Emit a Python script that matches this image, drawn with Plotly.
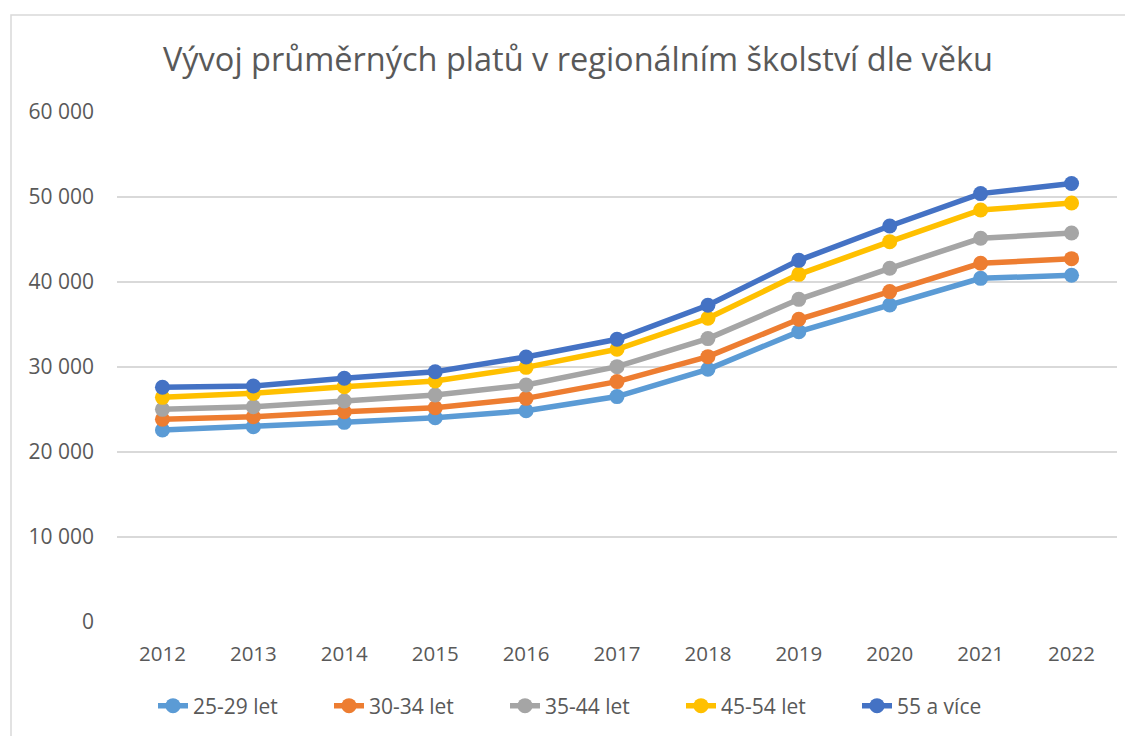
import plotly.graph_objects as go

years = ["2012", "2013", "2014", "2015", "2016", "2017", "2018", "2019", "2020", "2021", "2022"]
s_25_29 = [22590, 22980, 23490, 24040, 24860, 26520, 29730, 34160, 37290, 40430, 40790]
s_30_34 = [23850, 24150, 24740, 25210, 26310, 28280, 31220, 35610, 38870, 42200, 42750]
s_35_44 = [25020, 25330, 26000, 26710, 27880, 30040, 33340, 37960, 41610, 45140, 45760]
s_45_54 = [26430, 26900, 27690, 28350, 29960, 32080, 35730, 40900, 44750, 48470, 49290]
s_55 = [27610, 27760, 28670, 29450, 31180, 33260, 37260, 42550, 46590, 50400, 51580]

series = [
    ("25-29 let", s_25_29, "#5B9BD5"),
    ("30-34 let", s_30_34, "#ED7D31"),
    ("35-44 let", s_35_44, "#A5A5A5"),
    ("45-54 let", s_45_54, "#FFC000"),
    ("55 a více", s_55, "#4472C4"),
]

FONT = "Open Sans"
fig = go.Figure()
for name, vals, col in series:
    fig.add_trace(go.Scatter(
        x=years, y=vals, name=name, mode="lines+markers",
        line=dict(color=col, width=5.5),
        marker=dict(color=col, size=15),
    ))

# page has an 8px body margin; figure coordinates = page - 8
W, H = 1125, 728
L, R, T, B = 109, 16, 104, 114
pw, ph = W - L - R, H - T - B
plot_bottom = T + ph

fig.update_layout(
    width=W, height=H,
    margin=dict(l=L, r=R, t=T, b=B, autoexpand=False),
    paper_bgcolor="white", plot_bgcolor="white",
    separators=", ",
    font=dict(family=FONT, color="#595959", size=21),
    title=dict(
        text="Vývoj průměrných platů v regionálním školství dle věku",
        font=dict(family=FONT, size=32.5, color="#595959"),
        xref="container", yref="container",
        x=570 / W, xanchor="center", y=1 - 52 / H, yanchor="middle",
    ),
    xaxis=dict(
        type="category", range=[-0.5, 10.5], showgrid=False, zeroline=False,
        showline=False, ticks="", ticklabelstandoff=17, automargin=False,
        tickfont=dict(family=FONT, size=20.5, color="#595959"),
    ),
    yaxis=dict(
        range=[0, 60000], dtick=10000, tickformat=",d",
        showgrid=True, gridcolor="#D9D9D9", gridwidth=1.5,
        zeroline=False, showline=False, ticks="", ticklabelstandoff=22,
        automargin=False,
        tickfont=dict(family=FONT, size=21, color="#595959"),
    ),
    showlegend=True,
    legend=dict(
        orientation="h", xref="paper", yref="paper",
        x=(585 - L) / pw, xanchor="center",
        y=(plot_bottom - 698) / ph, yanchor="middle",
        font=dict(family=FONT, size=21, color="#595959"),
        itemwidth=30, entrywidth=131, traceorder="normal",
    ),
    shapes=[dict(
        type="rect", xref="paper", yref="paper",
        x0=(3 - L) / pw, x1=(1140 - L) / pw,
        y0=(plot_bottom - 745) / ph, y1=(plot_bottom - 7) / ph,
        line=dict(color="#D9D9D9", width=1.5), fillcolor="rgba(0,0,0,0)",
        layer="below",
    )],
)

fig.write_html("out.html")
